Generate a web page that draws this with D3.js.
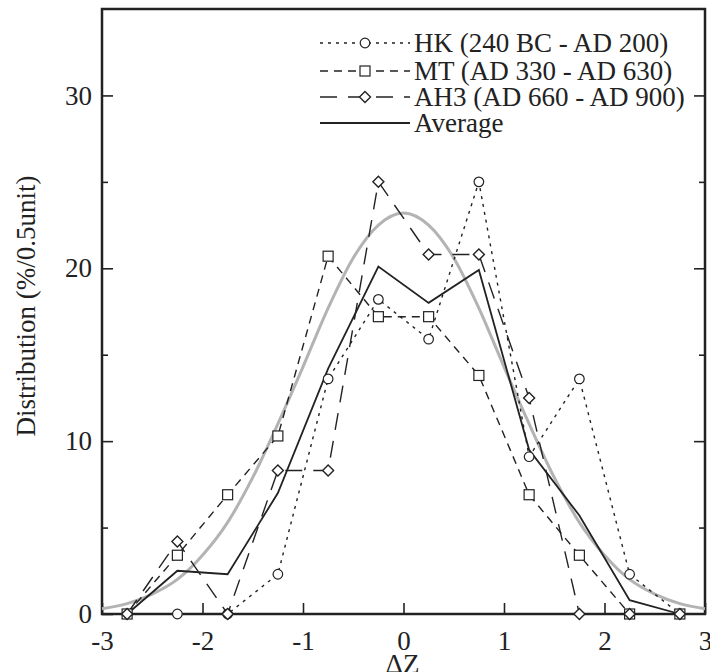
<!DOCTYPE html>
<html>
<head>
<meta charset="utf-8">
<script src="https://cdn.jsdelivr.net/npm/d3@7"></script>
<style>
  body { margin: 0; background: #fff; }
  text { font-family: "Liberation Serif", "Times New Roman", serif; fill: #222; }
</style>
</head>
<body>
<script>
// chart size
var width = 710;
var height = 672;
var plotLeft = 102, plotRight = 705, plotTop = 9, plotBottom = 614;

// DATA
var dz = [-2.75, -2.25, -1.75, -1.25, -0.75, -0.25, 0.25, 0.75, 1.25, 1.75, 2.25, 2.75];
var hk = [0, 0, 0, 2.3, 13.6, 18.2, 15.9, 25.0, 9.1, 13.6, 2.3, 0];
var mt = [0, 3.4, 6.9, 10.3, 20.7, 17.2, 17.2, 13.8, 6.9, 3.4, 0, 0];
var ah3 = [0, 4.2, 0, 8.3, 8.3, 25.0, 20.8, 20.8, 12.5, 0, 0, 0];
var avg = [0, 2.5, 2.3, 7.0, 14.2, 20.1, 18.0, 19.9, 9.5, 5.7, 0.8, 0];
// grey curve
var curveX = [-3, -2.75, -2.5, -2.25, -2, -1.75, -1.5, -1.25, -1, -0.75, -0.5, -0.25, 0,
              0.25, 0.5, 0.75, 1, 1.25, 1.5, 1.75, 2, 2.25, 2.5, 2.75, 3];
var curveY = [0.3, 0.6, 1.15, 2.0, 3.4, 5.3, 7.9, 11.0, 14.3, 17.7, 20.6, 22.5, 23.2,
              22.5, 20.6, 17.7, 14.3, 11.0, 7.9, 5.3, 3.4, 2.0, 1.15, 0.6, 0.3];
var xTicks = [-3, -2, -1, 0, 1, 2, 3];
var yTicks = [0, 10, 20, 30];
var yMinor = [5, 15, 25];
var legendLabels = ["HK (240 BC - AD 200)", "MT (AD 330 - AD 630)", "AH3 (AD 660 - AD 900)", "Average"];

var svg = d3.select("body").append("svg")
  .attr("width", width)
  .attr("height", height);

var x = d3.scaleLinear().domain([-3, 3]).range([plotLeft, plotRight]);
var y = d3.scaleLinear().domain([0, 35]).range([plotBottom, plotTop]);

// AXES
var fmt = function(d){ return d < 0 ? "-" + Math.abs(d) : String(d); };

var xAxis = svg.append("g").attr("transform", "translate(0," + plotBottom + ")")
  .call(d3.axisBottom(x).tickValues(xTicks).tickSizeInner(-11).tickSizeOuter(0).tickPadding(22).tickFormat(fmt));
var yAxis = svg.append("g").attr("transform", "translate(" + plotLeft + ",0)")
  .call(d3.axisLeft(y).tickValues(yTicks).tickSizeInner(-11).tickSizeOuter(0).tickPadding(10).tickFormat(fmt));
svg.append("g").attr("transform", "translate(" + plotLeft + ",0)")
  .call(d3.axisLeft(y).tickValues(yMinor).tickSizeInner(-6).tickSizeOuter(0).tickFormat(""));
svg.append("g").attr("transform", "translate(" + plotRight + ",0)")
  .call(d3.axisRight(y).tickValues(yTicks.slice(1)).tickSizeInner(-11).tickSizeOuter(0).tickFormat(""));
svg.append("g").attr("transform", "translate(" + plotRight + ",0)")
  .call(d3.axisRight(y).tickValues(yMinor).tickSizeInner(-6).tickSizeOuter(0).tickFormat(""));

svg.selectAll(".domain").remove();
svg.selectAll(".tick line").attr("stroke", "#222").attr("stroke-width", 1.6);
svg.selectAll(".tick text").attr("font-size", 27).attr("fill", "#222")
  .attr("font-family", "Liberation Serif");
xAxis.selectAll(".tick text").attr("dy", "0.5em");

// frame
svg.append("rect")
  .attr("x", plotLeft).attr("y", plotTop)
  .attr("width", plotRight - plotLeft).attr("height", plotBottom - plotTop)
  .attr("fill", "none").attr("stroke", "#222").attr("stroke-width", 2.5);

// axis titles
svg.append("text")
  .attr("x", (plotLeft + plotRight) / 2 - 1).attr("y", 673)
  .attr("text-anchor", "middle").attr("font-size", 27)
  .text("\u0394Z");
svg.append("text")
  .attr("transform", "translate(35," + 306 + ") rotate(-90)")
  .attr("text-anchor", "middle").attr("font-size", 27)
  .text("Distribution (%/0.5unit)");

// LINES
var line = d3.line().x(function(d){ return x(d[0]); }).y(function(d){ return y(d[1]); });
var smooth = d3.line().curve(d3.curveMonotoneX)
  .x(function(d){ return x(d[0]); }).y(function(d){ return y(d[1]); });

svg.append("path")
  .datum(d3.zip(curveX, curveY))
  .attr("d", smooth)
  .attr("fill", "none").attr("stroke", "#b3b3b3").attr("stroke-width", 3);

var series = [
  { vals: hk, dash: "3,5", marker: "circle" },
  { vals: mt, dash: "8,6", marker: "square" },
  { vals: ah3, dash: "17,11", marker: "diamond" },
  { vals: avg, dash: null, marker: null }
];

series.forEach(function(s){
  svg.append("path")
    .datum(d3.zip(dz, s.vals))
    .attr("d", line)
    .attr("fill", "none").attr("stroke", "#222")
    .attr("stroke-width", s.marker ? 1.4 : 1.8)
    .attr("stroke-dasharray", s.dash);
});

function drawMarker(g, type, cx, cy) {
  if (type === "circle") {
    g.append("circle").attr("cx", cx).attr("cy", cy).attr("r", 4.8)
      .attr("fill", "#fff").attr("stroke", "#222").attr("stroke-width", 1.2);
  } else if (type === "square") {
    g.append("rect").attr("x", cx - 5).attr("y", cy - 5).attr("width", 10).attr("height", 10)
      .attr("fill", "#fff").attr("stroke", "#222").attr("stroke-width", 1.2);
  } else if (type === "diamond") {
    g.append("path")
      .attr("d", "M" + cx + "," + (cy - 5.5) + "L" + (cx + 5.5) + "," + cy + "L" + cx + "," + (cy + 5.5) + "L" + (cx - 5.5) + "," + cy + "Z")
      .attr("fill", "#fff").attr("stroke", "#222").attr("stroke-width", 1.4);
  }
}

var markers = svg.append("g");
series.forEach(function(s){
  if (!s.marker) return;
  dz.forEach(function(d, i){ drawMarker(markers, s.marker, x(d), y(s.vals[i])); });
});

// LEGEND
var legend = svg.append("g");
var rowY = [43, 71, 97, 123];
series.forEach(function(s, i){
  legend.append("line")
    .attr("x1", 320).attr("x2", 410).attr("y1", rowY[i]).attr("y2", rowY[i])
    .attr("stroke", "#222").attr("stroke-width", s.marker ? 1.4 : 1.8)
    .attr("stroke-dasharray", s.dash);
  if (s.marker) drawMarker(legend, s.marker, 365, rowY[i]);
  legend.append("text")
    .attr("x", 414).attr("y", rowY[i] + 9)
    .attr("font-size", 27)
    .text(legendLabels[i]);
});
</script>
</body>
</html>
